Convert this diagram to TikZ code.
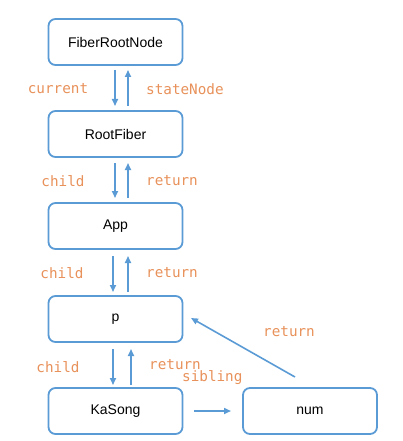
\documentclass[tikz,border=0pt]{standalone}
\usepackage{fontspec}
\setmainfont{Liberation Sans}
\newfontfamily\monof{DejaVu Sans Mono}
\usetikzlibrary{arrows.meta}
\definecolor{boxblue}{HTML}{5B9BD5}
\definecolor{lblorange}{HTML}{E8915A}
\begin{document}
\begin{tikzpicture}[x=1pt,y=-1pt,
  fbox/.style={draw=boxblue,line width=1.8pt,rounded corners=7pt,minimum width=134pt,minimum height=46pt,inner sep=0pt,font=\fontsize{14}{16}\selectfont},
  lbl/.style={text=lblorange,font=\monof\fontsize{14.3}{16}\selectfont,inner sep=0pt},
  conn/.style={draw=boxblue,line width=1.6pt,-{Triangle[length=7pt,width=6pt]}}]
\useasboundingbox (0,0) rectangle (403,441);
\node[fbox] (frn) at (115.5,42) {FiberRootNode};
\node[fbox] (rf) at (115.5,134) {RootFiber};
\node[fbox] (app) at (115.5,226) {App};
\node[fbox] (p) at (115.5,319) {p};
\node[fbox] (ks) at (115.5,411) {KaSong};
\node[fbox] (num) at (310,411) {num};
% FiberRootNode <-> RootFiber
\coordinate (a1) at (115,70); \coordinate (a2) at (115,106);
\coordinate (b1) at (128,106); \coordinate (b2) at (128,70);
\draw[conn] (a1) -- (a2);
\draw[conn] (b1) -- (b2);
\node[lbl] (l1) at (58,89) {current};
\node[lbl,anchor=west] (l2) at (146,89) {stateNode};
% RootFiber <-> App
\coordinate (c1) at (115,163); \coordinate (c2) at (115,198);
\coordinate (d1) at (128,198); \coordinate (d2) at (128,163);
\draw[conn] (c1) -- (c2);
\draw[conn] (d1) -- (d2);
\node[lbl] (l3) at (63,181) {child};
\node[lbl,anchor=west] (l4) at (146,181) {return};
% App <-> p
\coordinate (e1) at (113,256); \coordinate (e2) at (113,292);
\coordinate (f1) at (128,292); \coordinate (f2) at (128,256);
\draw[conn] (e1) -- (e2);
\draw[conn] (f1) -- (f2);
\node[lbl] (l5) at (62,273) {child};
\node[lbl,anchor=west] (l6) at (146,273) {return};
% p <-> KaSong
\coordinate (g1) at (113,349); \coordinate (g2) at (113,385);
\coordinate (h1) at (131,385); \coordinate (h2) at (131,349);
\draw[conn] (g1) -- (g2);
\draw[conn] (h1) -- (h2);
\node[lbl] (l7) at (58,367) {child};
\node[lbl,anchor=west] (l8) at (149,365) {return};
\node[lbl,anchor=west] (l9) at (182,378) {sibling};
% sibling
\coordinate (s1) at (194,411); \coordinate (s2) at (231,411);
\draw[conn] (s1) -- (s2);
% num return p
\coordinate (r1) at (295,377); \coordinate (r2) at (191,318);
\draw[conn] (r1) -- (r2);
\node[lbl,anchor=west] (l10) at (263,332) {return};
\end{tikzpicture}
\end{document}
